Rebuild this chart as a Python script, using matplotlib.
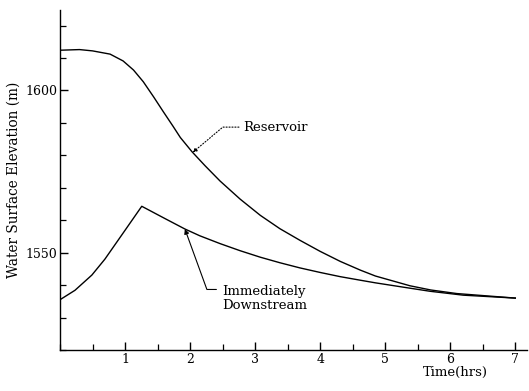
import matplotlib
matplotlib.use("Agg")
import matplotlib.pyplot as plt
from matplotlib.ticker import MultipleLocator

# Data
time_reservoir = [0.0, 0.3, 0.5, 0.77, 0.97, 1.13, 1.28, 1.44, 1.59, 1.74, 1.85,
                  2.03, 2.23, 2.46, 2.77, 3.08, 3.38, 3.69, 4.0, 4.31, 4.62, 4.85,
                  5.38, 5.7, 6.1, 7.0]
elev_reservoir = [1612.4, 1612.6, 1612.2, 1611.2, 1609.1, 1606.3, 1602.7, 1598.0,
                  1593.4, 1588.9, 1585.5, 1581.1, 1576.8, 1572.1, 1566.5, 1561.5,
                  1557.4, 1553.8, 1550.4, 1547.3, 1544.6, 1542.8, 1539.8, 1538.5,
                  1537.4, 1536.0]

time_downstream = [0.0, 0.23, 0.49, 0.69, 1.0, 1.257, 1.615, 1.92, 2.15, 2.46,
                   2.77, 3.08, 3.38, 3.69, 4.0, 4.31, 4.62, 4.85, 5.3, 5.69, 6.2,
                   7.0]
elev_downstream = [1535.5, 1538.4, 1543.1, 1548.0, 1556.9, 1564.3, 1560.5, 1557.3,
                   1555.2, 1552.8, 1550.6, 1548.6, 1546.9, 1545.3, 1543.9, 1542.6,
                   1541.5, 1540.7, 1539.3, 1538.1, 1536.9, 1536.0]

x_ticks = [1, 2, 3, 4, 5, 6, 7]
y_ticks = [1550, 1600]
label_reservoir = "Reservoir"
label_downstream = "Immediately\nDownstream"

plt.rcParams['font.family'] = ['DejaVu Serif']
W, H = 529, 391
fig = plt.figure(figsize=(W / 100, H / 100), dpi=100)
ax = fig.add_axes([60 / W, 1 - 350 / H, 467 / W, 340 / H])

ax.plot(time_reservoir, elev_reservoir, color='black', lw=1.0)
ax.plot(time_downstream, elev_downstream, color='black', lw=1.0)

ax.set_xlim(0, 7.18)
ax.set_ylim(1520, 1624.8)
for s in ['top', 'right']:
    ax.spines[s].set_visible(False)
for s in ['left', 'bottom']:
    ax.spines[s].set_linewidth(1.0)

ax.set_xticks(x_ticks)
ax.set_yticks(y_ticks)
ax.xaxis.set_minor_locator(MultipleLocator(0.5))
ax.yaxis.set_minor_locator(MultipleLocator(10))
ax.tick_params(axis='both', which='major', direction='in', length=6, width=1.0,
               labelsize=9)
ax.tick_params(axis='both', which='minor', direction='in', length=4, width=0.9)
ax.tick_params(axis='y', which='major', pad=2)
ax.tick_params(axis='x', which='major', pad=2)

ax.set_ylabel("Water Surface Elevation (m)", fontsize=9.8, labelpad=3)
fig.text(455 / W, 1 - 372 / H, "Time(hrs)", fontsize=9.5, ha='center', va='center')

ax.annotate(label_reservoir, xy=(2.04, 1580.9), xytext=(2.815, 1588.7),
            fontsize=9.5, ha='left', va='center',
            arrowprops=dict(arrowstyle='-|>', color='black', lw=0.8,
                            linestyle=':', mutation_scale=6,
                            connectionstyle='angle,angleA=0,angleB=40,rad=0',
                            relpos=(0, 0.5), shrinkA=1, shrinkB=0))

ax.annotate(label_downstream, xy=(1.92, 1557.3), xytext=(2.49, 1535.8),
            fontsize=9.5, ha='left', va='center', linespacing=1.05,
            arrowprops=dict(arrowstyle='-|>', color='black', lw=0.8,
                            mutation_scale=7,
                            connectionstyle='angle,angleA=0,angleB=-70,rad=0',
                            relpos=(0, 0.85), shrinkA=2, shrinkB=0))

fig.savefig("out.png", dpi=100)
